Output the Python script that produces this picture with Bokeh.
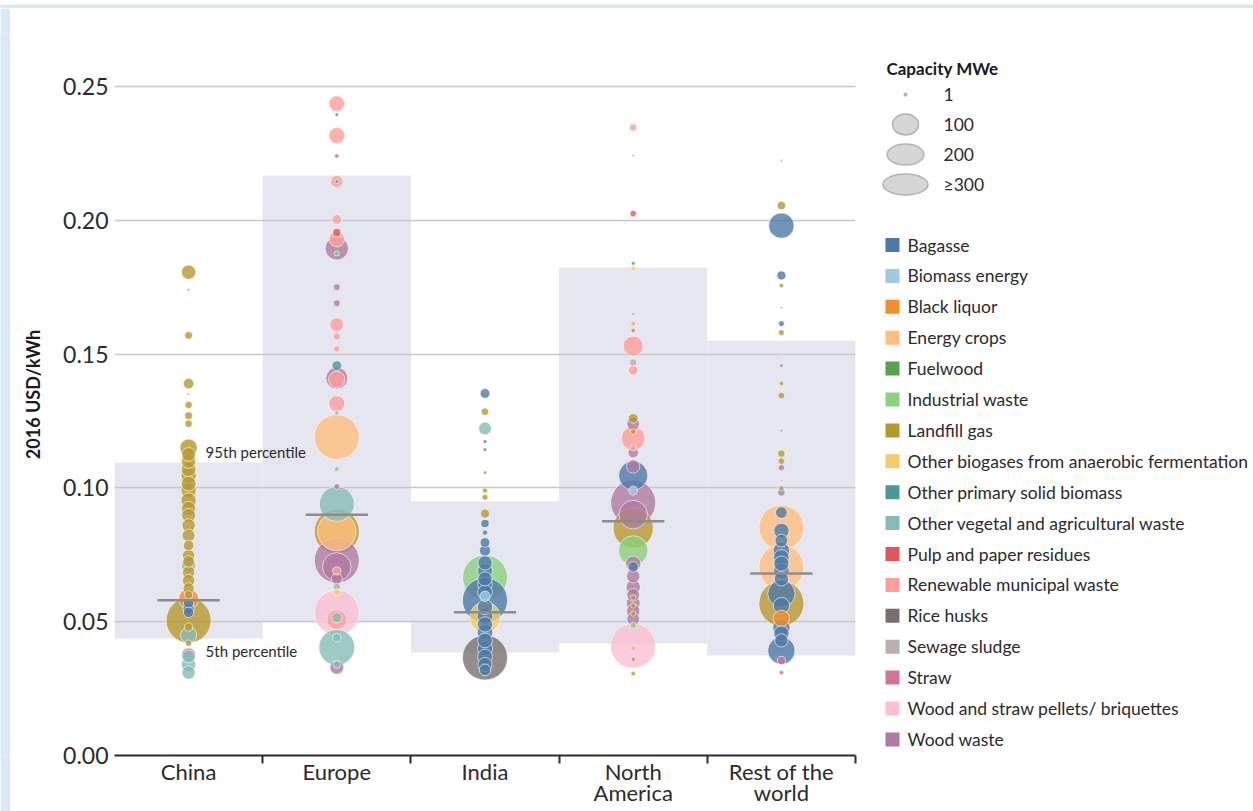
import math

from bokeh.core.properties import value
from bokeh.embed import file_html
from bokeh.layouts import column, row
from bokeh.models import ColumnDataSource, FixedTicker, Label, LinearAxis, NumeralTickFormatter, Range1d
from bokeh.plotting import figure
from bokeh.resources import INLINE

# ---------------------------------------------------------------- data
regions = ["China", "Europe", "India", "North America", "Rest of the world"]
region_line1 = ["China", "Europe", "India", "North", "Rest of the"]
region_line2 = ["", "", "", "America", "world"]

feed_codes = ["BG", "BE", "BL", "EC", "FW", "IW", "LG", "OB", "OP", "OV",
              "PP", "RM", "RH", "SS", "ST", "WP", "WW"]
feed_names = ["Bagasse", "Biomass energy", "Black liquor", "Energy crops", "Fuelwood",
              "Industrial waste", "Landfill gas", "Other biogases from anaerobic fermentation",
              "Other primary solid biomass", "Other vegetal and agricultural waste",
              "Pulp and paper residues", "Renewable municipal waste", "Rice husks",
              "Sewage sludge", "Straw", "Wood and straw pellets/ briquettes", "Wood waste"]
feed_colors = ["#4e79a7", "#9ecae1", "#f28e2b", "#ffbe7d", "#59a14f", "#8cd17d", "#b6992d",
               "#f1ce63", "#499894", "#86bcb6", "#e15759", "#ff9d9a", "#79706e", "#bab0ac",
               "#d37295", "#fabfd2", "#b07aa1"]

# LCOE (2016 USD/kWh), capacity (MWe) and feedstock of each project
china_cost = [0.1806, 0.174, 0.157, 0.139, 0.135, 0.131, 0.127, 0.124, 0.115, 0.1125,
              0.110, 0.107, 0.1046, 0.1016, 0.099, 0.0953, 0.0923, 0.0897, 0.086, 0.0822,
              0.0785, 0.0747, 0.0725, 0.071, 0.0685, 0.0654, 0.0625, 0.060, 0.0585, 0.0505,
              0.057, 0.055, 0.0535, 0.048, 0.045, 0.042, 0.0375, 0.037, 0.034, 0.031]
china_mw = [30, 1, 9, 16, 1, 8, 9, 8, 45, 28,
            30, 32, 34, 32, 34, 34, 30, 28, 26, 24,
            16, 22, 20, 30, 22, 22, 18, 10, 60, 300,
            16, 18, 16, 10, 38, 6, 30, 24, 30, 26]
china_feed = ["LG", "LG", "LG", "LG", "SS", "LG", "LG", "LG", "LG", "LG",
              "LG", "LG", "LG", "LG", "LG", "LG", "LG", "LG", "LG", "LG",
              "LG", "LG", "LG", "OV", "LG", "LG", "LG", "LG", "BL", "LG",
              "BG", "BG", "BG", "LG", "OV", "LG", "WW", "OV", "OV", "OV"]

europe_cost = [0.2436, 0.2395, 0.2317, 0.224, 0.2145, 0.2145, 0.2003, 0.1954, 0.193, 0.1895,
               0.1876, 0.175, 0.169, 0.161, 0.1566, 0.152, 0.1457, 0.141, 0.1405, 0.1315,
               0.128, 0.119, 0.107, 0.1005, 0.094, 0.0837, 0.0837, 0.0729, 0.0705, 0.069,
               0.066, 0.063, 0.061, 0.0534, 0.0508, 0.0515, 0.0404, 0.044, 0.0329, 0.034]
europe_mw = [36, 2, 38, 3, 22, 2, 14, 10, 36, 80,
             4, 7, 7, 28, 8, 6, 14, 70, 40, 38,
             3, 300, 4, 5, 180, 300, 220, 300, 120, 10,
             18, 8, 8, 300, 60, 16, 190, 10, 28, 8]
europe_feed = ["RM", "OP", "RM", "WW", "RM", "OP", "RM", "PP", "RM", "WW",
               "IW", "WW", "WW", "RM", "RM", "RM", "OP", "WW", "RM", "RM",
               "OV", "EC", "IW", "WW", "OV", "LG", "EC", "WW", "WW", "RM",
               "WW", "OV", "OB", "WP", "RM", "OV", "OV", "OV", "WW", "OV"]

india_cost = [0.1353, 0.1285, 0.1222, 0.1173, 0.1143, 0.1057, 0.099, 0.0965, 0.0904, 0.0867,
              0.0833, 0.0796, 0.0766, 0.0665, 0.072, 0.069, 0.066, 0.064, 0.061, 0.058,
              0.0595, 0.0555, 0.0516, 0.052, 0.049, 0.046, 0.043, 0.0366, 0.040, 0.037,
              0.034, 0.032]
india_mw = [14, 8, 24, 2, 2, 2, 4, 5, 12, 10,
            4, 14, 18, 300, 30, 32, 30, 32, 32, 300,
            16, 34, 140, 36, 34, 36, 32, 300, 34, 32,
            30, 20]
india_feed = ["BG", "LG", "OV", "BG", "BG", "LG", "LG", "LG", "LG", "BG",
              "BG", "BG", "BG", "IW", "BG", "BG", "BG", "BG", "BG", "BG",
              "BE", "BG", "OB", "BG", "BG", "BG", "BG", "RH", "BG", "BG",
              "BG", "BG"]

namerica_cost = [0.2347, 0.2242, 0.2025, 0.1839, 0.182, 0.165, 0.1614, 0.1588, 0.153, 0.1469,
                 0.1439, 0.126, 0.124, 0.1185, 0.121, 0.115, 0.1132, 0.108, 0.1046, 0.099,
                 0.0945, 0.090, 0.085, 0.0766, 0.0717, 0.0705, 0.067, 0.063, 0.060, 0.059,
                 0.057, 0.056, 0.054, 0.053, 0.051, 0.0486, 0.041, 0.040, 0.036, 0.0306]
namerica_mw = [8, 1, 6, 2, 4, 2, 4, 3, 60, 8,
               14, 14, 24, 85, 5, 6, 16, 26, 125, 12,
               300, 120, 240, 130, 34, 16, 26, 30, 24, 4,
               28, 4, 26, 4, 24, 6, 300, 4, 3, 3]
namerica_feed = ["RM", "SS", "PP", "OP", "OB", "SS", "RM", "LG", "RM", "SS",
                 "RM", "LG", "WW", "RM", "LG", "RM", "WW", "WW", "BG", "BE",
                 "WW", "WW", "LG", "IW", "WW", "BG", "WW", "WW", "WW", "LG",
                 "WW", "LG", "WW", "LG", "WW", "IW", "WP", "RM", "LG", "LG"]

rest_cost = [0.2223, 0.2055, 0.198, 0.1794, 0.1756, 0.1674, 0.1614, 0.158, 0.150, 0.1457,
             0.139, 0.1345, 0.1214, 0.1128, 0.110, 0.1076, 0.1028, 0.0998, 0.0983, 0.0852,
             0.0908, 0.084, 0.0803, 0.0703, 0.0766, 0.074, 0.0717, 0.069, 0.066, 0.0568,
             0.0605, 0.056, 0.0512, 0.0478, 0.0456, 0.0392, 0.043, 0.0355, 0.031]
rest_mw = [1, 10, 95, 12, 3, 1, 5, 5, 1, 2,
           3, 6, 2, 8, 6, 6, 1, 4, 8, 300,
           20, 34, 24, 300, 40, 36, 34, 36, 30, 300,
           110, 40, 40, 44, 34, 110, 26, 10, 3]
rest_feed = ["SS", "LG", "BG", "BG", "LG", "SS", "BG", "LG", "SS", "WW",
             "LG", "LG", "SS", "LG", "LG", "ST", "SS", "LG", "WW", "EC",
             "BG", "BG", "BG", "EC", "BG", "BG", "BG", "BG", "BG", "LG",
             "BG", "BG", "BL", "BG", "BG", "BG", "BG", "ST", "WW"]

# 5th / 95th percentile band and capacity-weighted average per region
p5 = [0.0437, 0.0497, 0.0385, 0.0419, 0.0374]
p95 = [0.1095, 0.2167, 0.0949, 0.1824, 0.155]
weighted_avg = [0.058, 0.090, 0.0535, 0.0875, 0.068]

y_ticks = [0.0, 0.05, 0.10, 0.15, 0.20, 0.25]
size_legend_mw = [1, 100, 200, 300]
size_legend_labels = ["1", "100", "200", "\u2265300"]

FONT = "Lato"
INK = "#2b2b2b"
PAGE_TINT = "#dbe8f5"


def diameter(mw):
    """Bubble area scales with capacity; 300 MWe and above share one size."""
    return 2.6 * math.sqrt(min(mw, 300))


color_of = dict(zip(feed_codes, feed_colors))

# ---------------------------------------------------------------- bubbles
xs, ys, sizes, fills = [], [], [], []
region_points = [
    (china_cost, china_mw, china_feed),
    (europe_cost, europe_mw, europe_feed),
    (india_cost, india_mw, india_feed),
    (namerica_cost, namerica_mw, namerica_feed),
    (rest_cost, rest_mw, rest_feed),
]
for i, (cost, mw, feed) in enumerate(region_points):
    # largest plants first so the small ones stay visible on top
    for c, m, f in sorted(zip(cost, mw, feed), key=lambda t: -t[1]):
        xs.append(i + 0.5)
        ys.append(c)
        sizes.append(diameter(m))
        fills.append(color_of[f])
bubbles = ColumnDataSource(dict(x=xs, y=ys, size=sizes, fill=fills))

# ---------------------------------------------------------------- main chart
FRAME_H = 722
y_end = 0.25 * FRAME_H / 669

p = figure(frame_width=741, frame_height=FRAME_H,
           x_range=Range1d(0, 5), y_range=Range1d(0, y_end),
           output_backend="svg", toolbar_location=None,
           min_border_left=104, min_border_right=5, min_border_top=25, min_border_bottom=56)
p.outline_line_color = None
p.background_fill_color = "white"
p.border_fill_color = "white"

centers = [i + 0.5 for i in range(len(regions))]
p.quad(left=[i for i in range(5)], right=[i + 1 for i in range(5)], bottom=p5, top=p95,
       fill_color="#e5e6f0", line_color=None, level="image")

p.xgrid.visible = False
p.ygrid.ticker = FixedTicker(ticks=y_ticks)
p.ygrid.grid_line_color = "#c8c8c8"
p.ygrid.grid_line_width = 1.5

p.scatter(x="x", y="y", size="size", source=bubbles, marker="circle",
          fill_color="fill", fill_alpha=0.8, line_color="white", line_alpha=0.6, line_width=1)

p.segment(x0=[c - 0.21 for c in centers], x1=[c + 0.21 for c in centers],
          y0=weighted_avg, y1=weighted_avg, line_color="#8c8c8c", line_width=2.5)

p.add_layout(Label(x=centers[0], y=p95[0], x_offset=17, y_offset=1, text="95th percentile",
                   text_baseline="bottom", text_font=FONT, text_font_size="15px",
                   text_color=INK))
p.add_layout(Label(x=centers[0], y=p5[0], x_offset=17, y_offset=-3, text="5th percentile",
                   text_baseline="top", text_font=FONT, text_font_size="15px",
                   text_color=INK))

yax = p.yaxis[0]
yax.ticker = FixedTicker(ticks=y_ticks)
yax.formatter = NumeralTickFormatter(format="0.00")
yax.axis_line_color = None
yax.major_tick_line_color = None
yax.minor_tick_line_color = None
yax.major_tick_out = 0
yax.major_label_text_font = FONT
yax.major_label_text_font_size = "23px"
yax.major_label_text_color = INK
yax.major_label_standoff = 6
yax.axis_label = "2016 USD/kWh"
yax.axis_label_text_font = FONT
yax.axis_label_text_font_size = "18px"
yax.axis_label_text_font_style = "bold"
yax.axis_label_text_color = "#1a1a1a"
yax.axis_label_standoff = 16

# x axis: boundary ticks between regions, region names centred in each slot
xax = p.xaxis[0]
xax.ticker = FixedTicker(ticks=centers, minor_ticks=[1, 2, 3, 4, 5])
xax.major_label_overrides = {c: t for c, t in zip(centers, region_line1)}
xax.major_tick_line_color = None
xax.major_tick_out = 0
xax.major_tick_in = 0
xax.minor_tick_line_color = INK
xax.minor_tick_line_width = 2
xax.minor_tick_out = 8
xax.minor_tick_in = 0
xax.axis_line_color = INK
xax.axis_line_width = 2
xax.major_label_text_font = FONT
xax.major_label_text_font_size = "22px"
xax.major_label_text_color = INK
xax.major_label_standoff = -6

# second line of the two-line region names
second = [(c, t) for c, t in zip(centers, region_line2) if t]
xax2 = LinearAxis(ticker=FixedTicker(ticks=[c for c, _ in second]),
                  major_label_overrides={c: t for c, t in second})
xax2.axis_line_color = None
xax2.major_tick_line_color = None
xax2.minor_tick_line_color = None
xax2.major_tick_out = 0
xax2.major_tick_in = 0
xax2.minor_tick_out = 0
xax2.major_label_text_font = FONT
xax2.major_label_text_font_size = "22px"
xax2.major_label_text_color = INK
xax2.major_label_standoff = -9
p.add_layout(xax2, "below")

# ---------------------------------------------------------------- legends
# legend panel uses page-pixel coordinates: x 860..1253, y 33 (top) .. 755 (bottom)
leg = figure(width=393, height=803, x_range=Range1d(860, 1253), y_range=Range1d(755, 33),
             output_backend="svg", toolbar_location=None,
             x_axis_type=None, y_axis_type=None,
             min_border_left=0, min_border_right=0, min_border_top=25, min_border_bottom=48)
leg.outline_line_color = None
leg.border_fill_color = "white"
leg.xgrid.visible = False
leg.ygrid.visible = False

leg.text(x=[886], y=[68], text=["Capacity MWe"], text_font=value(FONT),
         text_font_size="17px", text_font_style="bold", text_baseline="middle",
         text_color="#1a1a1a")
size_rows = [94 + 30 * i for i in range(len(size_legend_mw))]
leg.ellipse(x=[905] * 4, y=size_rows,
            width=[diameter(m) for m in size_legend_mw],
            height=[min(diameter(m), 21) for m in size_legend_mw],
            fill_color="#d6d6d6", line_color="#b3b3b3", line_width=1.5)
leg.text(x=[943] * 4, y=size_rows, text=size_legend_labels, text_font=value(FONT),
         text_font_size="17.5px", text_baseline="middle", text_color=INK)

feed_rows = [244.5 + 30.9 * i for i in range(len(feed_names))]
leg.rect(x=[892] * len(feed_names), y=feed_rows, width=14, height=14,
         fill_color=feed_colors, line_color=None)
leg.text(x=[907] * len(feed_names), y=feed_rows, text=feed_names, text_font=value(FONT),
         text_font_size="17.5px", text_baseline="middle", text_color=INK)


def tint_strip(w, h):
    s = figure(width=w, height=h, x_axis_type=None, y_axis_type=None,
               output_backend="svg", toolbar_location=None, min_border=0)
    s.outline_line_color = None
    s.border_fill_color = PAGE_TINT
    s.background_fill_color = PAGE_TINT
    s.xgrid.visible = False
    s.ygrid.visible = False
    return s


layout = column(tint_strip(1253, 8), row(tint_strip(10, 803), p, leg))
open("out.html", "w").write(file_html(layout, INLINE))
